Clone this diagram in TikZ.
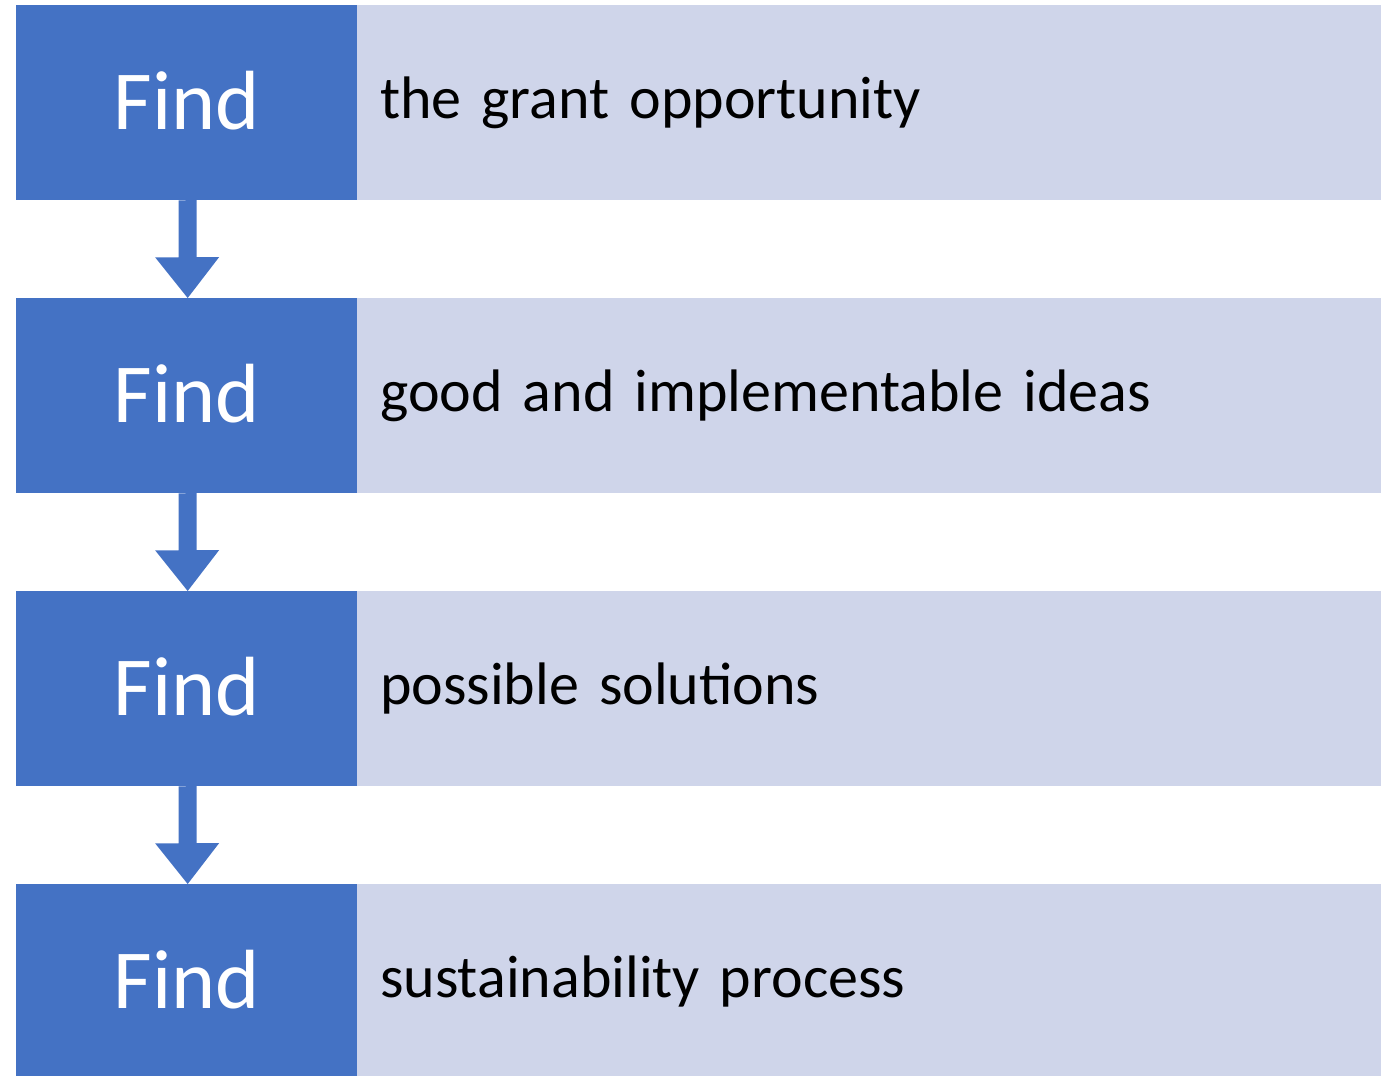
\documentclass[tikz,border=0pt]{standalone}
\usepackage{fontspec}
\setmainfont{Carlito}
\definecolor{darkblue}{HTML}{4472C4}
\definecolor{lightblue}{HTML}{CFD5EA}
\begin{document}
\begin{tikzpicture}[x=1pt,y=-1pt,
  stepdark/.style={fill=darkblue,draw=none,anchor=north west,minimum width=341pt,minimum height=195pt,inner sep=0pt,text=white,font=\fontsize{84}{84}\selectfont},
  steplight/.style={fill=lightblue,draw=none,anchor=north west,minimum height=195pt,text width=978pt,inner xsep=23pt,inner ysep=0pt,align=left,text=black,font=\fontsize{60}{60}\selectfont},
  flowarrow/.style={fill=darkblue,draw=none}]
\useasboundingbox (0,0) rectangle (1384,1076);
\begin{scope}
\clip (0,0) rectangle (1384,1076);
\foreach \i/\y/\t in {1/5/{the grant opportunity},2/298/{good and implementable ideas},3/591/{possible solutions},4/884/{sustainability process}}{
  \node[stepdark] (d\i) at (16,\y) {\raisebox{5pt}{Find}};
  \node[steplight] (l\i) at (357,\y) {\t};
}
\end{scope}
\foreach \a/\b in {1/2,2/3,3/4}{
  \fill[flowarrow] ([xshift=-8pt]d\a.south) -- ++(0,57) -- ++(-23.5,0) -- ([xshift=1pt]d\b.north) -- ++(31.5,-41) -- ++(-22.5,0) -- ++(0,-57) -- cycle;
}
\end{tikzpicture}
\end{document}
